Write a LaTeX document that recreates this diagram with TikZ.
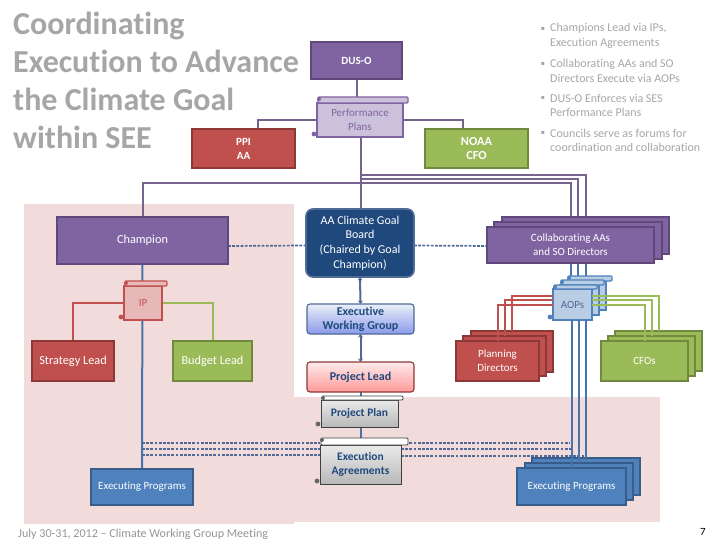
\documentclass[tikz,border=0pt]{standalone}
\usepackage{fontspec}
\setmainfont{Carlito}[Ligatures={NoCommon}]
\newfontfamily\dvfont{DejaVu Sans}
\usetikzlibrary{arrows.meta}
\pgfdeclarelayer{bg}
\pgfsetlayers{bg,main}
\definecolor{pinkbg}{HTML}{F2DCDB}
\definecolor{purp}{HTML}{8064A2}
\definecolor{purpd}{HTML}{5F497A}
\definecolor{purpl}{HTML}{CCC1DA}
\definecolor{redf}{HTML}{C0504D}
\definecolor{redd}{HTML}{8C3836}
\definecolor{redl}{HTML}{E6B9B8}
\definecolor{grnf}{HTML}{9BBB59}
\definecolor{grnd}{HTML}{71893F}
\definecolor{bluf}{HTML}{4F81BD}
\definecolor{blud}{HTML}{385D8A}
\definecolor{blul}{HTML}{B9CDE5}
\definecolor{navy}{HTML}{1F497D}
\definecolor{slate}{HTML}{4F6A96}
\definecolor{txtgray}{HTML}{A6A6A6}
\tikzset{
  x=1pt,y=-1pt,
  basebox/.style={rectangle,inner sep=0pt,outer sep=0pt,line width=1.6pt,align=center,text=white,
    font=\fontsize{11}{14}\selectfont},
  purplebox/.style={basebox,fill=purp,draw=purpd},
  redbox/.style={basebox,fill=redf,draw=redd},
  greenbox/.style={basebox,fill=grnf,draw=grnd},
  bluebox/.style={basebox,fill=bluf,draw=blud},
  boardbox/.style={basebox,fill=navy,draw=slate,rounded corners=7pt,font=\fontsize{12}{14.7}\selectfont},
  ewgbox/.style={basebox,line width=1.1pt,top color=white!70!blul,bottom color=blue!25!blul,draw=slate,rounded corners=3pt,
    text=navy,font=\bfseries\fontsize{12}{14}\selectfont},
  leadbox/.style={basebox,line width=1.1pt,top color=red!8,bottom color=red!40,draw=redd,rounded corners=3pt,
    text=navy,font=\bfseries\fontsize{12}{14}\selectfont},
  pscroll/.style={basebox,fill=purpl,draw=purp,text=purp},
  pscrollbar/.style={line width=1.3pt,fill=purpl,draw=purp},
  pscrolldot/.style={fill=purp},
  rscroll/.style={basebox,fill=redl,draw=redf,text=redf},
  rscrollbar/.style={line width=1.3pt,fill=redl,draw=redf},
  rscrolldot/.style={fill=redf},
  bscroll/.style={basebox,fill=blul,draw=bluf,text=slate},
  bscrollbar/.style={line width=1.3pt,fill=blul,draw=bluf},
  bscrolldot/.style={fill=bluf},
  gscroll/.style={basebox,top color=white!92!black,bottom color=black!28,draw=black!75,line width=.9pt,text=navy,
    font=\bfseries\fontsize{11.5}{14}\selectfont},
  gscrollbar/.style={line width=.9pt,fill=white,draw=black!75},
  gscrolldot/.style={fill=black!60},
  purpline/.style={draw=purpd!85!white,line width=2pt},
  blueline/.style={draw=bluf!90!black,line width=2pt},
  redline/.style={draw=redf,line width=2pt},
  greenline/.style={draw=grnf,line width=2pt},
  dashline/.style={draw=slate,line width=1.7pt,dash pattern=on 2.8pt off 1.4pt},
  twoarrow/.style={draw=slate,line width=2pt,{Stealth[length=3.5pt,width=5pt]}-{Stealth[length=3.5pt,width=5pt]}},
  titletext/.style={inner sep=0pt,anchor=north west,align=left,text=txtgray,font=\bfseries\fontsize{32}{38}\selectfont},
  bullettext/.style={inner sep=0pt,anchor=west,align=left,text=txtgray,font=\fontsize{12}{14.6}\selectfont},
  bulletmark/.style={inner sep=0pt,text=txtgray,font=\dvfont\fontsize{6}{6}\selectfont},
  bigtext/.style={font=\fontsize{12.3}{14}\selectfont},
}
% name, x1, y1, x2, y2, style, text
\newcommand{\boxat}[7]{%
  \node[#6,minimum width={(#4-#2)*1pt},minimum height={(#5-#3)*1pt}] (#1) at ({(#2+#4)/2},{(#3+#5)/2}) {#7};}
% name, x1, bartop, y1, x2, y2, barright, style, text
\newcommand{\scrollat}[9]{%
  \fill[#8dot] ({#2-3},{#6-3}) circle (2.4);
  \boxat{#1}{#2}{#4}{#5}{#6}{#8}{#9}
  \draw[#8bar,rounded corners=1pt] ({#2+1},#3) rectangle (#7,#4);
  \fill[#8dot] ({#2+2},{#3+2}) circle (2);}
\begin{document}
\begin{tikzpicture}
\useasboundingbox (0,0) rectangle (720,540);
\begin{pgfonlayer}{bg}
  \fill[pinkbg] (24,204) rectangle (294,524);
  \fill[pinkbg] (294,397) rectangle (660,522);
\end{pgfonlayer}

\node[titletext] (title) at (13,12) {Coordinating\\Execution to Advance\\the Climate Goal\\within SEE};

\node[bulletmark] (b1m) at (543,29) {▪};
\node[bullettext] (b1) at (550,36) {Champions Lead via IPs,\\Execution Agreements};
\node[bulletmark] (b2m) at (543,64) {▪};
\node[bullettext] (b2) at (550,71) {Collaborating AAs and SO\\Directors Execute via AOPs};
\node[bulletmark] (b3m) at (543,98) {▪};
\node[bullettext] (b3) at (550,105.5) {DUS-O Enforces via SES\\Performance Plans};
\node[bulletmark] (b4m) at (543,133) {▪};
\node[bullettext] (b4) at (550,140.5) {Councils serve as forums for\\coordination and collaboration};

% top row
\boxat{dus}{311}{42}{402}{79}{purplebox}{\textbf{DUS-O}}
\scrollat{plans}{317}{97}{103}{403}{137}{408}{pscroll}{Performance\\Plans}
\boxat{ppi}{192}{129}{295}{168}{redbox}{\textbf{PPI}\\\textbf{AA}}
\boxat{noaa}{425}{129}{528}{168}{greenbox,bigtext}{\textbf{NOAA}\\\textbf{CFO}}

% left column
\boxat{champion}{57}{217}{228}{264}{purplebox,bigtext}{Champion}
\scrollat{ip}{124}{281}{286}{162}{320}{167}{rscroll}{IP}
\boxat{strategy}{32}{341}{114}{381}{redbox,bigtext}{Strategy Lead}
\boxat{budget}{173}{341}{252}{381}{greenbox,bigtext}{Budget Lead}
\boxat{execL}{91}{469}{193}{505}{bluebox}{Executing Programs}

% centre column
\boxat{board}{306}{209}{414}{277}{boardbox}{AA Climate Goal\\Board\\(Chaired by Goal\\Champion)}
\boxat{ewg}{307}{304}{414}{334}{ewgbox}{Executive\\Working Group}
\boxat{lead}{307}{362}{414}{392}{leadbox}{Project Lead}
\scrollat{plan}{321}{396}{400}{398}{427}{403}{gscroll}{Project Plan}
\scrollat{agree}{320}{438}{445}{401}{484}{408}{gscroll}{Execution\\Agreements}

% right stacks
\boxat{cback}{502}{217}{669}{254}{purplebox}{}
\boxat{cmid}{494}{222}{662}{259}{purplebox}{}
\boxat{cfront}{487}{227}{654}{263}{purplebox}{Collaborating AAs\\and SO Directors}
\boxat{planC}{471}{331}{553}{372}{redbox}{}
\boxat{planB}{463}{336}{546}{376}{redbox}{}
\boxat{planA}{456}{341}{539}{381}{redbox}{Planning\\Directors}
\boxat{cfoC}{615}{331}{702}{371}{greenbox}{}
\boxat{cfoB}{608}{336}{695}{376}{greenbox}{}
\boxat{cfoA}{601}{341}{688}{381}{greenbox}{CFOs}
\boxat{exC}{532}{458}{640}{495}{bluebox}{}
\boxat{exB}{525}{463}{633}{500}{bluebox}{}
\boxat{exA}{517}{468}{626}{505}{bluebox}{Executing Programs}
\scrollat{aopC}{567}{276}{281}{606}{310}{612}{bscroll}{}
\scrollat{aopB}{560}{280}{285}{599}{315}{604}{bscroll}{}
\scrollat{aopA}{553}{285}{289}{592}{320}{597}{bscroll}{AOPs}

% connectors behind the boxes
\begin{pgfonlayer}{bg}
  \coordinate (trunk) at ([xshift=1pt]plans.south);
  \draw[purpline] (dus.south) -- (dus.south |- plans.north);
  \draw[purpline] ([xshift=14pt]ppi.north) |- (plans.west);
  \draw[purpline] (plans.east) -| ([xshift=-13.5pt]noaa.north);
  \draw[purpline] (trunk) -- (trunk |- board.north);
  \draw[purpline] (trunk) |- ([yshift=34pt]champion.north) -- (champion.north);
  \draw[purpline] (trunk) |- ([yshift=42pt]cback.north) -- (cback.north);
  \draw[purpline] (trunk) |- ([yshift=43pt]cmid.north) -- (cmid.north);
  \draw[purpline] (trunk) |- ([yshift=44pt]cfront.north) -- (cfront.north);
  \draw[blueline] (champion.south) -- (execL.north);
  \draw[redline] (ip.west) -| (strategy.north);
  \draw[greenline] (ip.east) -| (budget.north);
  \draw[dashline] ([yshift=-5.5pt]champion.east) -- ([yshift=-2.5pt]board.west);
  \draw[dashline] ([yshift=-2.5pt]board.east) -- ([yshift=-1pt]cfront.west);
  \draw[blueline] (cfront.south) -- (cfront.south |- aopA.north);
  \draw[blueline] (cmid.south) -- (cmid.south |- aopB.north);
  \draw[blueline] (cback.south) -- (cback.south |- aopC.north);
  \draw[blueline] (lead.south) -- (plan.north -| lead.south);
  \draw[blueline] (plan.south -| agree.north) -- (agree.north);
  \coordinate (dl1) at (142,443);
  \coordinate (dl2) at (142,449);
  \coordinate (dl3) at (142,455);
  \coordinate (dr1) at (570,443);
  \coordinate (dr2) at (573,449);
  \coordinate (dr3) at (586,456);
  \draw[dashline] (dl1) -- (dl1 -| agree.west);
  \draw[dashline] (dl2) -- (dl2 -| agree.west);
  \draw[dashline] (dl3) -- (dl3 -| agree.west);
  \draw[dashline] (dr1 -| agree.east) -- (dr1);
  \draw[dashline] (dr2 -| agree.east) -- (dr2);
  \draw[dashline] (dr3 -| agree.east) -- (dr3);
\end{pgfonlayer}

\draw[twoarrow] (board.south) -- (ewg.north);
\draw[twoarrow] (ewg.south) -- (lead.north);

% connectors drawn over the stacks
\draw[redline] (aopA.west) -| (planA.north);
\draw[redline] (aopA.west |- aopB.west) -| (planB.north);
\draw[redline] (aopA.west |- aopC.west) -| (planC.north);
\draw[greenline] (aopA.east) -| (cfoA.north);
\draw[greenline] (aopA.east |- aopB.east) -| (cfoB.north);
\draw[greenline] (aopA.east |- aopC.east) -| (cfoC.north);
\draw[blueline] (exA.north |- aopA.south) -- (exA.north);
\draw[blueline] (exB.north |- aopA.south) -- (exB.north);
\draw[blueline] (exC.north |- aopA.south) -- (exC.north);

\node[inner sep=0pt,anchor=west,text=txtgray!90!black,font=\fontsize{12.1}{14}\selectfont] (footer) at (18,534) {July 30-31, 2012 -- Climate Working Group Meeting};
\node[inner sep=0pt,text=black,font=\fontsize{11}{13}\selectfont] (pagenum) at (703,532) {7};
\end{tikzpicture}
\end{document}
